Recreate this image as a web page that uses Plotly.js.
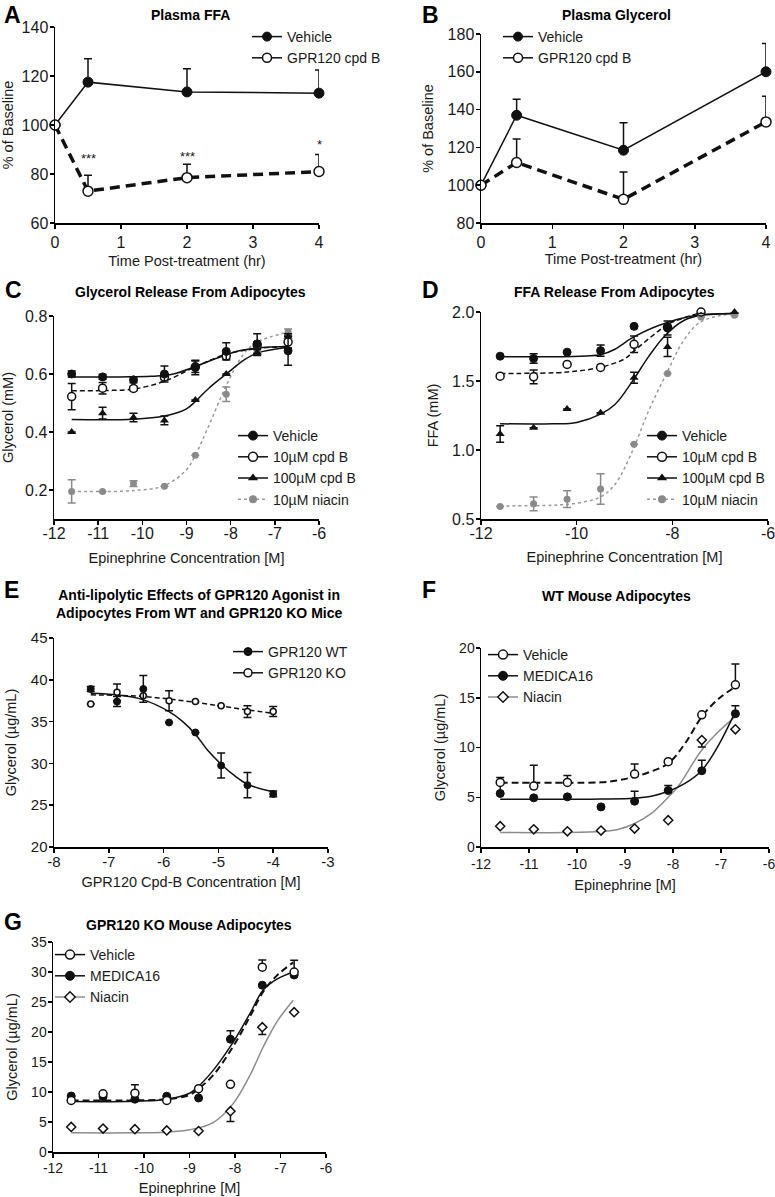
<!DOCTYPE html>
<html>
<head>
<meta charset="utf-8">
<script src="https://cdn.plot.ly/plotly-3.0.1.min.js"></script>
<style>
  body { margin: 0; background: #fff; }
  #chart { width: 775px; height: 1197px; }
</style>
</head>
<body>
<div id="chart"></div>
<script>
// ---- A / B : plasma time course ----
const timeX = [0, 0.5, 2, 4];
const ffaVehicle = [100, 117.5, 113.5, 113];
const ffaVehicleErr = [0, 9.5, 9.5, 9.5];
const ffaCpdB = [100, 73, 78.5, 81];
const ffaCpdBErr = [0, 6.5, 5.5, 7];
const ffaSigX = [0.5, 2, 4];
const ffaSigY = [86.5, 87, 92];
const ffaSigText = ['***', '***', '*'];
const glyVehicle = [100, 137, 118.5, 160];
const glyVehicleErr = [0, 8.5, 14.5, 15];
const glyCpdB = [100, 112, 92.5, 133.5];
const glyCpdBErr = [0, 12.5, 14.5, 13.5];

// ---- epinephrine doses (log M) used in C, D, F, G ----
const epiX = [-11.6, -10.9, -10.2, -9.5, -8.8, -8.1, -7.4, -6.7];

// ---- C : glycerol release ----
const cVehicle = [0.60, 0.59, 0.58, 0.60, 0.622, 0.678, 0.704, 0.68];
const cVehicleErr = [0.01, 0.008, 0.01, 0.028, 0.025, 0.03, 0.035, 0.05];
const cCpd10 = [0.522, 0.551, 0.55, 0.59, 0.625, 0.662, 0.70, 0.71];
const cCpd10Err = [0.045, 0.02, 0.008, 0.01, 0.02, 0.01, 0.01, 0.02];
const cCpd100 = [0.40, 0.465, 0.45, 0.44, 0.51, 0.60, 0.674, 0.729];
const cCpd100Err = [0, 0.02, 0.015, 0.015, 0, 0, 0.01, 0.01];
const cNiacin = [0.195, 0.195, 0.222, 0.213, 0.32, 0.53, 0.674, 0.745];
const cNiacinErr = [0.04, 0, 0.01, 0, 0, 0.025, 0, 0.01];
const cVehicleFitX = [-11.6, -10.5, -9.8, -9.3, -8.8, -8.3, -7.8, -7.2, -6.7];
const cVehicleFitY = [0.59, 0.59, 0.592, 0.60, 0.626, 0.655, 0.68, 0.692, 0.695];
const cCpd10FitX = [-11.6, -10.9, -10.2, -9.5, -8.8, -8.1, -7.4, -6.7];
const cCpd10FitY = [0.542, 0.543, 0.548, 0.575, 0.625, 0.668, 0.688, 0.695];
const cCpd100FitX = [-11.6, -10.2, -9.5, -9.0, -8.8, -8.5, -8.1, -7.7, -7.4, -6.7];
const cCpd100FitY = [0.443, 0.444, 0.455, 0.48, 0.505, 0.55, 0.60, 0.648, 0.672, 0.692];
const cNiacinFitX = [-11.6, -10.2, -9.5, -9.0, -8.8, -8.5, -8.1, -7.7, -7.4, -6.7];
const cNiacinFitY = [0.195, 0.198, 0.215, 0.27, 0.32, 0.42, 0.56, 0.67, 0.71, 0.745];

// ---- D : FFA release ----
const dVehicle = [1.68, 1.663, 1.709, 1.72, 1.896, 1.884, 2.02, 2.005];
const dVehicleErr = [0, 0.035, 0, 0.04, 0, 0.05, 0.03, 0];
const dCpd10 = [1.535, 1.53, 1.62, 1.598, 1.766, 1.89, 2.0, 2.06];
const dCpd10Err = [0, 0.05, 0, 0, 0.06, 0, 0, 0];
const dCpd100 = [1.116, 1.162, 1.297, 1.27, 1.523, 1.747, 1.993, 2.0];
const dCpd100Err = [0.06, 0, 0, 0, 0.04, 0.07, 0, 0];
const dNiacin = [0.591, 0.61, 0.644, 0.717, 1.042, 1.555, 1.964, 1.976];
const dNiacinErr = [0, 0.05, 0.06, 0.11, 0, 0, 0, 0];
const dVehicleFitX = [-11.6, -10.5, -9.8, -9.5, -9.2, -8.85, -8.3, -7.5, -6.7];
const dVehicleFitY = [1.675, 1.676, 1.682, 1.69, 1.73, 1.81, 1.90, 1.976, 1.99];
const dCpd10FitX = [-11.6, -10.2, -9.5, -9.0, -8.8, -8.3, -8.1, -7.4, -6.7];
const dCpd10FitY = [1.555, 1.565, 1.60, 1.66, 1.718, 1.86, 1.91, 1.995, 2.03];
const dCpd100FitX = [-11.6, -10.5, -10.0, -9.5, -9.2, -8.85, -8.5, -8.15, -7.75, -7.4, -6.7];
const dCpd100FitY = [1.19, 1.19, 1.20, 1.26, 1.33, 1.49, 1.675, 1.83, 1.94, 1.976, 1.99];
const dNiacinFitX = [-11.6, -10.5, -10.0, -9.5, -9.2, -8.85, -8.5, -8.1, -7.75, -7.4, -6.7];
const dNiacinFitY = [0.595, 0.60, 0.615, 0.66, 0.75, 0.98, 1.28, 1.57, 1.80, 1.93, 1.99];

// ---- E : cpd B dose response ----
const cpdX = [-7.33, -6.85, -6.37, -5.9, -5.42, -4.95, -4.47, -4.0];
const eWT = [38.9, 37.4, 38.9, 34.9, 33.7, 29.75, 27.4, 26.35];
const eWTErr = [0.3, 0.6, 1.6, 0, 0, 1.5, 1.5, 0.35];
const eKO = [37.1, 38.5, 38.1, 37.5, 37.4, 36.9, 36.2, 36.2];
const eKOErr = [0, 1.0, 0, 1.2, 0, 0, 0.7, 0.6];
const eWTFitX = [-7.33, -6.85, -6.37, -5.9, -5.65, -5.42, -5.2, -4.95, -4.7, -4.47, -4.0];
const eWTFitY = [38.4, 38.2, 37.6, 36.2, 35.0, 33.5, 31.6, 29.9, 28.5, 27.5, 26.6];
const eKOFitX = [-7.33, -6.37, -5.42, -4.47, -4.0];
const eKOFitY = [38.2, 38.0, 37.3, 36.4, 36.0];

// ---- F : WT mouse adipocytes ----
const fVehicle = [6.49, 6.12, 6.49, null, 7.33, 8.57, 13.28, 16.3];
const fVehicleErr = [0.5, 2.1, 0.7, 0, 1.0, 0, 0, 2.1];
const fMedica = [5.38, 4.94, 5.04, 4.03, 4.6, 5.68, 7.66, 13.4];
const fMedicaErr = [1.0, 0, 0, 0, 1.0, 0.5, 1.05, 0.8];
const fNiacin = [2.09, 1.78, 1.58, 1.65, 1.85, 2.69, 10.75, 11.83];
const fNiacinErrMinus = [0, 0, 0, 0, 0, 0, 0.7, 0];
const fVehicleFitX = [-11.6, -10.2, -9.5, -9.15, -8.8, -8.45, -8.1, -7.75, -7.4, -7.05, -6.7];
const fVehicleFitY = [6.45, 6.46, 6.5, 6.7, 7.06, 7.6, 8.4, 10.4, 13.1, 14.9, 16.1];
const fMedicaFitX = [-11.6, -10.2, -9.5, -8.8, -8.45, -8.1, -7.75, -7.4, -7.05, -6.7];
const fMedicaFitY = [4.8, 4.8, 4.82, 4.9, 5.1, 5.6, 6.4, 7.7, 10.25, 13.6];
const fNiacinFitX = [-11.6, -10.2, -9.5, -9.15, -8.8, -8.45, -8.1, -7.9, -7.4, -7.05, -6.7];
const fNiacinFitY = [1.45, 1.45, 1.55, 1.75, 2.36, 3.37, 5.0, 6.05, 9.75, 11.6, 13.1];

// ---- G : GPR120 KO mouse adipocytes ----
const gVehicle = [8.6, 9.7, 9.8, 8.6, 10.55, 11.28, 30.8, 30.0];
const gVehicleErr = [0, 0, 1.4, 0, 0, 0, 1.2, 1.95];
const gMedica = [9.33, 9.2, 8.8, 9.3, 9.0, 18.8, 27.8, 29.5];
const gMedicaErr = [0, 0.5, 0, 0, 1.5, 1.4, 0, 0];
const gNiacin = [4.17, 3.9, 3.8, 3.6, 3.5, 6.8, 20.8, 23.3];
const gNiacinErrMinus = [0, 0, 0, 0, 0, 1.7, 1.2, 0];
const gFitX = [-11.6, -10.2, -9.5, -9.0, -8.84, -8.48, -8.04, -7.67, -7.38, -7.08, -6.72];
const gMedicaFitY = [8.4, 8.45, 8.8, 9.8, 10.67, 13.6, 18.3, 23.1, 27.0, 28.8, 30.0];
const gVehicleFitY = [8.6, 8.6, 8.8, 9.5, 10.3, 12.8, 17.6, 22.6, 26.7, 29.4, 31.6];
const gNiacinFitX = [-11.6, -10.2, -9.5, -9.0, -8.48, -8.04, -7.67, -7.38, -7.08, -6.72];
const gNiacinFitY = [3.2, 3.2, 3.3, 3.7, 4.9, 8.06, 12.8, 17.5, 21.7, 25.3];

// tick values
const timeTicks = [0, 1, 2, 3, 4];
const epiTicks = [-12, -11, -10, -9, -8, -7, -6];
const epiTicks2 = [-12, -10, -8, -6];
const cpdTicks = [-8, -7, -6, -5, -4, -3];

const W = 775, H = 1197;
const FONT = 'Liberation Sans, Arial, Helvetica, sans-serif';
const INK = '#1a1a1a';
const GRAY = '#8a8a8a';

function xdom(a, b) { return [a / W, b / W]; }
function ydom(top, bottom) { return [1 - bottom / H, 1 - top / H]; }

let layout = {
    width: W, height: H,
    margin: {l: 0, r: 0, t: 0, b: 0},
    paper_bgcolor: '#fff',
    plot_bgcolor: 'rgba(0,0,0,0)',
    font: {family: FONT, size: 14, color: INK},
    showlegend: true,
    annotations: []
};

// o = {fs, xls, xts, yts}: tick font, x label standoff, x/y title standoff
function addAxes(n, xd, yd, xr, xticks, yr, yticks, yfmt, xtitle, ytitle, o) {
    let s = n === 1 ? '' : String(n);
    let common = {
        showline: true, linecolor: '#000', linewidth: 1.5,
        ticks: 'outside', ticklen: 4, tickwidth: 1.5, tickcolor: '#000',
        showgrid: false, zeroline: false,
        tickfont: {size: o.fs, color: INK}
    };
    layout['xaxis' + s] = Object.assign({}, common, {
        domain: xd, range: xr, anchor: 'y' + s,
        tickmode: 'array', tickvals: xticks, ticktext: xticks.map(String),
        ticklabeloverflow: 'allow', ticklabelstandoff: o.xls,
        title: {text: xtitle, font: {size: 14.5}, standoff: o.xts}
    });
    layout['yaxis' + s] = Object.assign({}, common, {
        domain: yd, range: yr, anchor: 'x' + s,
        tickmode: 'array', tickvals: yticks,
        ticktext: yticks.map(v => yfmt ? v.toFixed(1) : String(v)),
        ticklabelstandoff: -2,
        title: {text: ytitle, font: {size: 14.5}, standoff: o.yts}
    });
}

addAxes(1, xdom(55, 319), ydom(27, 223), [0, 4], timeTicks, [60, 140], [60, 80, 100, 120, 140], false,
    'Time Post-treatment (hr)', '% of Baseline', {fs: 16, xls: 0, xts: 6, yts: 10});
addAxes(2, xdom(481, 766), ydom(34, 223), [0, 4], timeTicks, [80, 180], [80, 100, 120, 140, 160, 180], false,
    'Time Post-treatment (hr)', '% of Baseline', {fs: 16, xls: 0, xts: 3, yts: 10});
addAxes(3, xdom(54, 319), ydom(316, 519), [-12, -6], epiTicks, [0.1, 0.8], [0.2, 0.4, 0.6, 0.8], true,
    'Epinephrine Concentration [M]', 'Glycerol (mM)', {fs: 16, xls: -5, xts: 12, yts: 10});
addAxes(4, xdom(481, 768), ydom(312, 519), [-12, -6], epiTicks2, [0.5, 2.0], [0.5, 1.0, 1.5, 2.0], true,
    'Epinephrine Concentration [M]', 'FFA (mM)', {fs: 16, xls: -5, xts: 11, yts: 10});
addAxes(5, xdom(54, 328), ydom(638, 847), [-8, -3], cpdTicks, [20, 45], [20, 25, 30, 35, 40, 45], false,
    'GPR120 Cpd-B Concentration [M]', 'Glycerol (µg/mL)', {fs: 15, xls: -4, xts: 8, yts: 10});
addAxes(6, xdom(481, 769), ydom(648, 847), [-12, -6], epiTicks, [0, 20], [0, 5, 10, 15, 20], false,
    'Epinephrine [M]', 'Glycerol (µg/mL)', {fs: 14, xls: 0, xts: 8, yts: 10});
addAxes(7, xdom(53, 326), ydom(942, 1152), [-12, -6], epiTicks, [0, 35], [0, 5, 10, 15, 20, 25, 30, 35], false,
    'Epinephrine [M]', 'Glycerol (µg/mL)', {fs: 14, xls: -1, xts: 7, yts: 10});

// legends, one per panel
function addLegend(name, x, y, fs) {
    layout[name] = {
        x: x / W, y: 1 - y / H, xanchor: 'left', yanchor: 'top',
        bgcolor: 'rgba(0,0,0,0)', borderwidth: 0,
        font: {size: fs, color: INK}, tracegroupgap: 0, itemwidth: 30
    };
}
addLegend('legend', 247, 21, 14);
addLegend('legend2', 498, 21, 14);
addLegend('legend3', 233, 420, 14);
addLegend('legend4', 642, 420, 14);
addLegend('legend5', 228, 636, 14);
addLegend('legend6', 483, 639, 14);
addLegend('legend7', 50, 939, 14);

// panel letters and titles
function note(text, x, y, size, anchor) {
    layout.annotations.push({
        text: text, xref: 'paper', yref: 'paper', x: x / W, y: 1 - y / H,
        xanchor: anchor, yanchor: 'middle', showarrow: false,
        font: {size: size, color: '#000', family: FONT}
    });
}
note('<b>A</b>', 2, 15, 23, 'left');
note('<b>B</b>', 420, 15, 23, 'left');
note('<b>C</b>', 3, 290, 23, 'left');
note('<b>D</b>', 420, 290, 23, 'left');
note('<b>E</b>', 2, 590, 23, 'left');
note('<b>F</b>', 420, 590, 23, 'left');
note('<b>G</b>', 2, 922, 23, 'left');
note('<b>Plasma FFA</b>', 190, 15, 14, 'center');
note('<b>Plasma Glycerol</b>', 616, 15, 14, 'center');
note('<b>Glycerol Release From Adipocytes</b>', 190, 292, 14, 'center');
note('<b>FFA Release From Adipocytes</b>', 614, 292, 14, 'center');
note('<b>Anti-lipolytic Effects of GPR120 Agonist in<br>Adipocytes From WT and GPR120 KO Mice</b>', 199, 604, 14, 'center');
note('<b>WT Mouse Adipocytes</b>', 616, 596, 14, 'center');
note('<b>GPR120 KO Mouse Adipocytes</b>', 189, 925, 14, 'center');

// significance stars in A
for (let i = 0; i < ffaSigX.length; i++) {
    layout.annotations.push({
        text: ffaSigText[i], xref: 'x', yref: 'y', x: ffaSigX[i], y: ffaSigY[i],
        showarrow: false, font: {size: 13, color: INK}
    });
}

// marker styles
const mFilled = s => ({symbol: 'circle', size: s, color: '#111', line: {color: '#111', width: 1}});
const mOpen = s => ({symbol: 'circle', size: s, color: '#fff', line: {color: '#111', width: 1.5}});
const mTri = s => ({symbol: 'triangle-up', size: s, color: '#111', line: {color: '#111', width: 0}});
const mGray = s => ({symbol: 'circle', size: s, color: GRAY, line: {color: GRAY, width: 0}});
const mDiamond = s => ({symbol: 'diamond', size: s, color: '#fff', line: {color: '#111', width: 1.5}});

let traces = [];

function points(n, x, y, plus, minus, marker, mode, line, ecolor) {
    let s = n === 1 ? '' : String(n);
    traces.push({
        type: 'scatter', mode: mode || 'markers', x: x, y: y,
        xaxis: 'x' + s, yaxis: 'y' + s, showlegend: false, cliponaxis: false,
        marker: marker, line: line || {color: '#111', width: 1.5},
        error_y: {type: 'data', symmetric: false, array: plus, arrayminus: minus,
            color: ecolor || '#111', thickness: 1.5, width: 4},
        hoverinfo: 'skip'
    });
}

function fit(n, x, y, line) {
    let s = n === 1 ? '' : String(n);
    traces.push({
        type: 'scatter', mode: 'lines', x: x, y: y,
        xaxis: 'x' + s, yaxis: 'y' + s, showlegend: false, cliponaxis: false,
        line: Object.assign({shape: 'spline', smoothing: 1}, line),
        hoverinfo: 'skip'
    });
}

function key(n, name, marker, line) {
    let s = n === 1 ? '' : String(n);
    traces.push({
        type: 'scatter', mode: 'lines+markers', x: [null], y: [null], name: name,
        xaxis: 'x' + s, yaxis: 'y' + s, legend: 'legend' + s,
        marker: marker, line: line
    });
}

const zeros = new Array(8).fill(0);
const solid = {color: '#111', width: 1.5};
const thickDash = {color: '#111', width: 3.5, dash: '10px,6px'};
const thinDash = {color: '#111', width: 1.5, dash: '5px,3px'};
const grayDot = {color: '#999', width: 1.5, dash: 'dot'};
const graySolid = {color: '#8c8c8c', width: 1.5};

// A
points(1, timeX, ffaVehicle, ffaVehicleErr, zeros.slice(0, 4), mFilled(10), 'lines+markers', solid);
points(1, timeX, ffaCpdB, ffaCpdBErr, zeros.slice(0, 4), mOpen(10), 'lines+markers', thickDash);
key(1, 'Vehicle', mFilled(9), solid);
key(1, 'GPR120 cpd B', mOpen(9), solid);

// B
points(2, timeX, glyVehicle, glyVehicleErr, zeros.slice(0, 4), mFilled(10), 'lines+markers', solid);
points(2, timeX, glyCpdB, glyCpdBErr, zeros.slice(0, 4), mOpen(10), 'lines+markers', thickDash);
key(2, 'Vehicle', mFilled(9), solid);
key(2, 'GPR120 cpd B', mOpen(9), solid);

// C
fit(3, cNiacinFitX, cNiacinFitY, grayDot);
fit(3, cCpd100FitX, cCpd100FitY, solid);
fit(3, cCpd10FitX, cCpd10FitY, thinDash);
fit(3, cVehicleFitX, cVehicleFitY, solid);
points(3, epiX, cNiacin, cNiacinErr, cNiacinErr, mGray(7), null, null, GRAY);
points(3, epiX, cCpd100, cCpd100Err, cCpd100Err, mTri(8));
points(3, epiX, cCpd10, cCpd10Err, cCpd10Err, mOpen(8));
points(3, epiX, cVehicle, cVehicleErr, cVehicleErr, mFilled(8));
key(3, 'Vehicle', mFilled(9), solid);
key(3, '10µM cpd B', mOpen(9), solid);
key(3, '100µM cpd B', mTri(9), solid);
key(3, '10µM niacin', mGray(8), grayDot);

// D
fit(4, dNiacinFitX, dNiacinFitY, grayDot);
fit(4, dCpd100FitX, dCpd100FitY, solid);
fit(4, dCpd10FitX, dCpd10FitY, thinDash);
fit(4, dVehicleFitX, dVehicleFitY, solid);
points(4, epiX, dNiacin, dNiacinErr, dNiacinErr, mGray(7), null, null, GRAY);
points(4, epiX, dCpd100, dCpd100Err, dCpd100Err, mTri(8));
points(4, epiX, dCpd10, dCpd10Err, dCpd10Err, mOpen(8));
points(4, epiX, dVehicle, dVehicleErr, dVehicleErr, mFilled(8));
key(4, 'Vehicle', mFilled(9), solid);
key(4, '10µM cpd B', mOpen(9), solid);
key(4, '100µM cpd B', mTri(9), solid);
key(4, '10µM niacin', mGray(8), grayDot);

// E
fit(5, eKOFitX, eKOFitY, thinDash);
fit(5, eWTFitX, eWTFitY, solid);
points(5, cpdX, eKO, eKOErr, eKOErr, mOpen(6));
points(5, cpdX, eWT, eWTErr, eWTErr, mFilled(7));
key(5, 'GPR120 WT', mFilled(8), solid);
key(5, 'GPR120 KO', mOpen(8), solid);

// F
fit(6, fNiacinFitX, fNiacinFitY, graySolid);
fit(6, fMedicaFitX, fMedicaFitY, solid);
fit(6, fVehicleFitX, fVehicleFitY, {color: '#111', width: 2, dash: '7px,4px'});
points(6, epiX, fNiacin, zeros, fNiacinErrMinus, mDiamond(7));
points(6, epiX, fMedica, fMedicaErr, zeros, mFilled(8));
points(6, epiX, fVehicle, fVehicleErr, zeros, mOpen(8));
key(6, 'Vehicle', mOpen(9), solid);
key(6, 'MEDICA16', mFilled(9), solid);
key(6, 'Niacin', mDiamond(8), graySolid);

// G
fit(7, gNiacinFitX, gNiacinFitY, graySolid);
fit(7, gFitX, gMedicaFitY, solid);
fit(7, gFitX, gVehicleFitY, {color: '#111', width: 2, dash: '7px,4px'});
points(7, epiX, gNiacin, zeros, gNiacinErrMinus, mDiamond(7));
points(7, epiX, gMedica, gMedicaErr, zeros, mFilled(8));
points(7, epiX, gVehicle, gVehicleErr, zeros, mOpen(8));
key(7, 'Vehicle', mOpen(9), solid);
key(7, 'MEDICA16', mFilled(9), solid);
key(7, 'Niacin', mDiamond(8), graySolid);

Plotly.newPlot('chart', traces, layout, {displayModeBar: false, staticPlot: true});
</script>
</body>
</html>
